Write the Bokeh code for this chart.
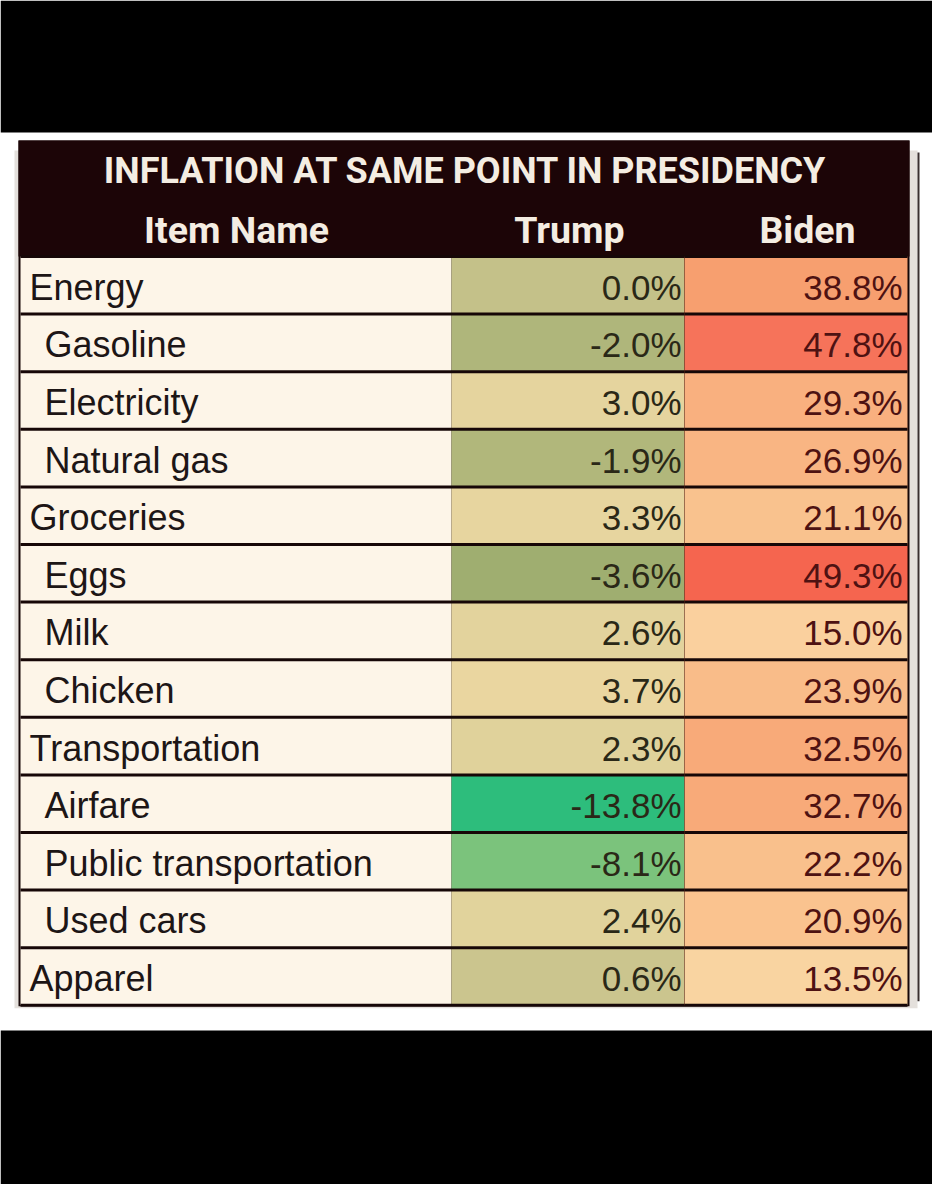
import numpy as np
from bokeh.plotting import figure
from bokeh.models import Range1d, ColumnDataSource, LinearColorMapper
from bokeh.transform import transform
from bokeh.core.properties import value
from bokeh.embed import file_html
from bokeh.resources import INLINE

# ---------------- data ----------------
title = "INFLATION AT SAME POINT IN PRESIDENCY"
col_headers = ["Item Name", "Trump", "Biden"]
items = ["Energy", "Gasoline", "Electricity", "Natural gas", "Groceries", "Eggs",
         "Milk", "Chicken", "Transportation", "Airfare", "Public transportation",
         "Used cars", "Apparel"]
is_category = [True, False, False, False, True, False, False, False, True,
               False, False, False, True]
trump = [0.0, -2.0, 3.0, -1.9, 3.3, -3.6, 2.6, 3.7, 2.3, -13.8, -8.1, 2.4, 0.6]
biden = [38.8, 47.8, 29.3, 26.9, 21.1, 49.3, 15.0, 23.9, 32.5, 32.7, 22.2, 20.9, 13.5]

# ---------------- style ----------------
W, H = 932, 1184
FONT = "Liberation Sans"
HFONT = "Roboto"
HEAD_BG = "#1c0507"
CREAM = "#fdf5e8"
LINE = "#160707"

# colour scale anchors (value -> colour) for the conditional formatting
anchors = [(-13.8, "#2dbd7c"), (-8.1, "#7cc47c"), (-3.6, "#a0ae70"), (0.0, "#c5c28a"),
           (2.3, "#e1d39c"), (3.7, "#ebd7a1"), (13.5, "#fad4a2"), (21.0, "#fac38f"),
           (29.3, "#f9b07f"), (38.8, "#f8a070"), (47.8, "#f7745b"), (49.3, "#f5654f")]
lo, hi = anchors[0][0], anchors[-1][0]
vals = np.linspace(lo, hi, 512)
av = [a[0] for a in anchors]
def _ch(c, i):
    return int(c[1 + 2 * i:3 + 2 * i], 16)
rgb = [np.interp(vals, av, [_ch(a[1], k) for a in anchors]) for k in range(3)]
palette = ["#%02x%02x%02x" % (int(r), int(g), int(b)) for r, g, b in zip(*rgb)]
mapper = LinearColorMapper(palette=palette, low=lo, high=hi)

p = figure(width=W, height=H, x_range=Range1d(8, 8 + W), y_range=Range1d(8 + H, 8),
           output_backend="svg", toolbar_location=None, min_border=0,
           background_fill_color="white", border_fill_color="white")
p.axis.visible = False
p.grid.visible = False
p.outline_line_color = None

# black bands
p.quad(left=[8, 8], right=[8 + W, 8 + W], top=[8, 1038], bottom=[140, 8 + H],
       fill_color="black", line_color=None)

# geometry
TL, TR = 26, 917          # table outer
X_ITEM, X_TRUMP, X_BIDEN, X_END = 28, 459, 692, 915
HEAD_TOP, ROW0, ROW_H = 148, 264, 57.6
n = len(items)
tops = [ROW0 + i * ROW_H for i in range(n)]
bots = [t + ROW_H for t in tops]
mids = [t + ROW_H / 2 for t in tops]

# shadow / outer edge
p.quad(left=[TL - 4], right=[TR + 8], top=[HEAD_TOP + 10], bottom=[bots[-1] + 3],
       fill_color="#e4e0dc", line_color=None)
p.segment(x0=[TR + 9], x1=[TR + 9], y0=[HEAD_TOP + 12], y1=[bots[-1] - 4],
          line_color="#3a3030", line_width=2)
p.quad(left=[TL], right=[TR], top=[HEAD_TOP], bottom=[bots[-1] + 1],
       fill_color=LINE, line_color=None)
# header
p.quad(left=[TL], right=[TR], top=[HEAD_TOP], bottom=[ROW0],
       fill_color=HEAD_BG, line_color=None)

src = ColumnDataSource(dict(item=items, trump=trump, biden=biden, top=tops, bot=bots, mid=mids,
                            tlab=["%.1f%%" % v for v in trump],
                            blab=["%.1f%%" % v for v in biden],
                            xname=[37 if c else 52 for c in is_category]))

p.quad(left=X_ITEM, right=X_TRUMP, top="top", bottom="bot", source=src,
       fill_color=CREAM, line_color=None)
p.quad(left=X_TRUMP, right=X_BIDEN, top="top", bottom="bot", source=src,
       fill_color=transform("trump", mapper), line_color=None)
p.quad(left=X_BIDEN, right=X_END, top="top", bottom="bot", source=src,
       fill_color=transform("biden", mapper), line_color=None)

# row separator lines
p.segment(x0=X_ITEM, x1=X_END, y0="bot", y1="bot", source=src, line_color=LINE, line_width=3)
p.segment(x0=[X_ITEM], x1=[X_END], y0=[ROW0], y1=[ROW0], line_color=LINE, line_width=3)
p.segment(x0=[X_BIDEN], x1=[X_BIDEN], y0=[ROW0], y1=[bots[-1]], line_color="#6b2a1a",
          line_width=1, line_alpha=0.4)

# texts
p.text(x=[473], y=[178], text=[title], text_font=value(HFONT), text_font_style="bold",
       text_font_size="36px", text_color="#f4ede2", text_align="center", text_baseline="middle")
p.text(x=[244, 577, 815], y=[237, 237, 237], text=col_headers, text_font=value(HFONT),
       text_font_style="bold", text_font_size="37.5px", text_color="#f4ede2",
       text_align="center", text_baseline="middle")

p.text(x="xname", y="mid", text="item", source=src, text_font=value(FONT),
       text_font_size="36px", text_color="#1d1616", text_align="left",
       text_baseline="middle", y_offset=2)
p.text(x=689, y="mid", text="tlab", source=src, text_font=value(FONT),
       text_font_size="35px", text_color="#2a2817", text_align="right",
       text_baseline="middle", y_offset=2)
p.text(x=910, y="mid", text="blab", source=src, text_font=value(FONT),
       text_font_size="35px", text_color="#4e1212", text_align="right",
       text_baseline="middle", y_offset=2)

open("out.html", "w").write(file_html(p, INLINE))
